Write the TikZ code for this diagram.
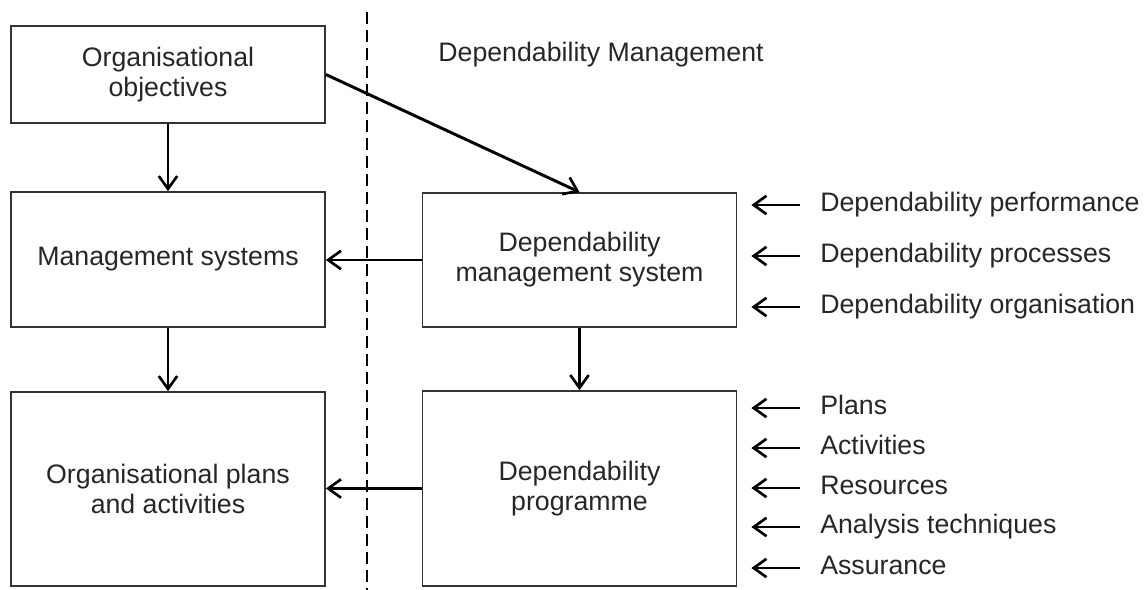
\documentclass[tikz,border=0pt]{standalone}
\usepackage{fontspec}
\setmainfont{Liberation Sans}
\usetikzlibrary{arrows.meta,positioning,calc}

\begin{document}
\begin{tikzpicture}[x=0.025cm, y=-0.025cm,
    font=\fontsize{19}{21.3}\selectfont, text=black!85,
    block/.style={draw=black!80, line width=1.2pt, align=center, inner sep=0pt, minimum width=7.85cm},
    flow/.style={line width=2.1pt, -{Straight Barb[length=3.2mm,width=4.6mm,line width=1.9pt]}},
    feed/.style={flow, shorten <=0.5cm, shorten >=0.35cm},
    inlabel/.style={anchor=west, inner sep=0pt, text height=13.5pt, text depth=4pt}]

    \useasboundingbox (0,0) rectangle (1148,590);

    % Boundary of dependability management
    \draw[line width=1.8pt, dash pattern=on 0.3cm off 0.15cm] (367,12) coordinate (dtop) -- (367,590) coordinate (dbot);
    \node (dmtitle) at (601,55) {Dependability Management};

    % Organisation side
    \node[block, minimum height=2.425cm] (orgobj) at (168,74.5) {Organisational\\objectives};
    \node[block, minimum height=3.375cm] (mansys) at (168,259.5) {Management systems};
    \node[block, minimum height=4.85cm] (orgplans) at (168,489) {Organisational plans\\and activities};

    % Dependability side
    \node[block, minimum height=3.35cm] (dms) at (579.5,260) {Dependability\\management system};
    \node[block, minimum height=4.875cm] (dprog) at (579.5,488.5) {Dependability\\programme};

    % Flows
    \draw[flow] (orgobj) -- (mansys);
    \draw[flow] (mansys) -- (orgplans);
    \draw[flow] (orgobj.east) -- (dms.north);
    \draw[flow] (dms.west) -- (dms.west -| mansys.east);
    \draw[flow] (dms) -- (dprog);
    \draw[flow] (dprog.west) -- (dprog.west -| orgplans.east);

    % Inputs
    \foreach \y/\txt [count=\i] in {205/Dependability performance, 256/Dependability processes, 307/Dependability organisation} {
        \node[inlabel] (dmsin\i) at (820,\y) {\txt};
        \draw[feed] (dmsin\i.west) -- (dmsin\i.west -| dms.east);
    }
    \foreach \y/\txt [count=\i] in {408/Plans, 448/Activities, 488/Resources, 527/Analysis techniques, 568/Assurance} {
        \node[inlabel] (dprogin\i) at (820,\y) {\txt};
        \draw[feed] (dprogin\i.west) -- (dprogin\i.west -| dprog.east);
    }

\end{tikzpicture}
\end{document}
